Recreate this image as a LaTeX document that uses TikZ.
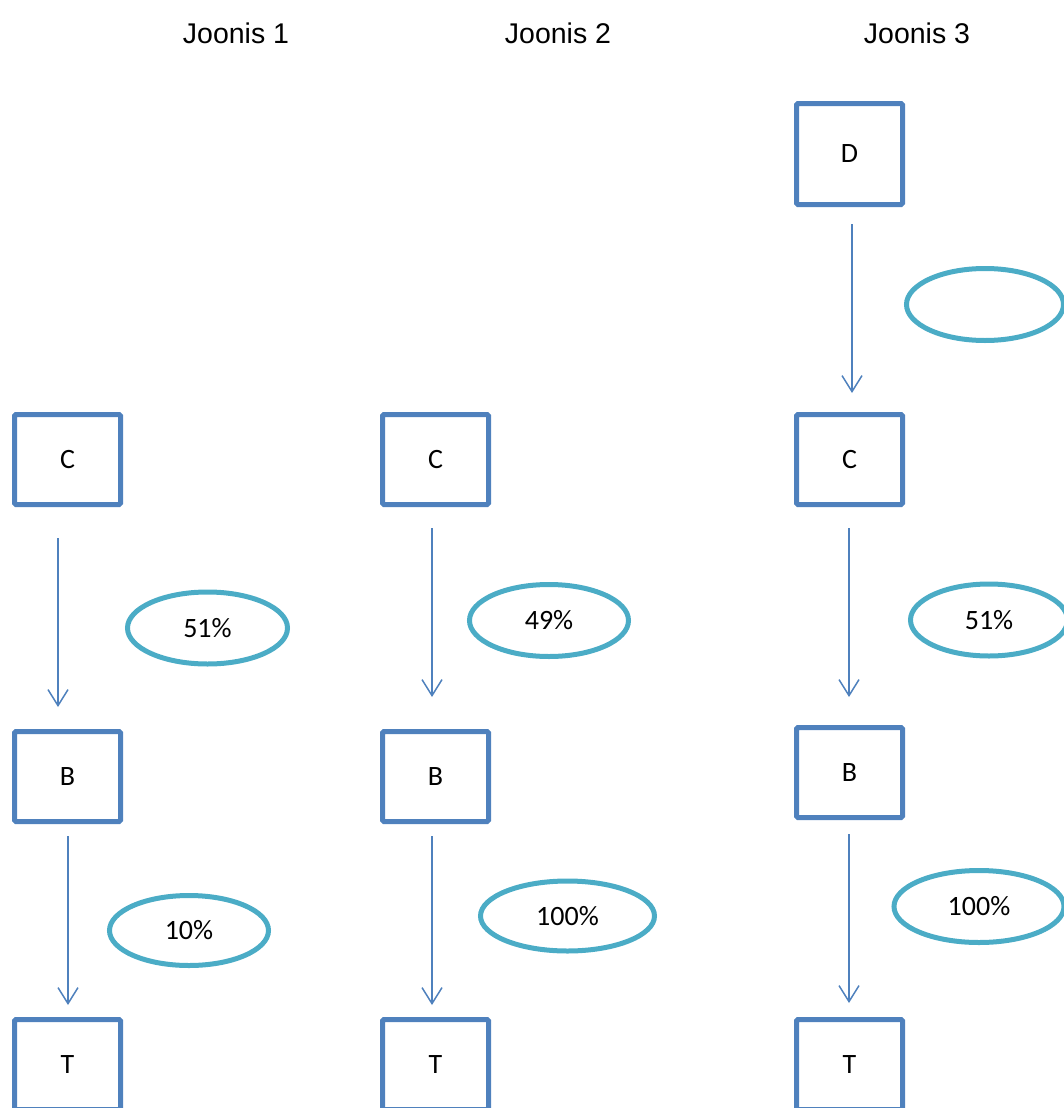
\documentclass[tikz,border=0pt]{standalone}
\usepackage{fontspec}
\setmainfont{Carlito}
\newfontfamily\headfont{Liberation Sans}
\usetikzlibrary{shapes.geometric,arrows.meta}
\definecolor{boxblue}{HTML}{4F81BD}
\definecolor{ovalcyan}{HTML}{4BACC6}
\tikzset{
	box/.style={draw=boxblue,line width=5pt,rounded corners=1.5pt,minimum width=106pt,minimum height=90pt,inner sep=0pt,font=\fontsize{28}{30}\selectfont},
	tallbox/.style={box,minimum height=101pt},
	oval/.style={ellipse,draw=ovalcyan,line width=5pt,minimum width=#1,minimum height=72pt,inner sep=0pt,font=\fontsize{28}{30}\selectfont},
	link/.style={draw=boxblue,line width=1.5pt,-{Straight Barb[length=16pt,width=20pt]}},
	title/.style={font=\headfont\fontsize{28.5}{30}\selectfont}
}
\begin{document}
\begin{tikzpicture}[x=1pt,y=-1pt]
	\useasboundingbox (0,0) rectangle (1064,1108);
	% titles
	\node [title] (t1) at (236,33) {Joonis 1};
	\node [title] (t2) at (558,33) {Joonis 2};
	\node [title] (t3) at (917,33) {Joonis 3};

	% Joonis 1
	\node [box] (c1) at (67.5,459.5) {C};
	\node [box] (b1) at (67.5,776.5) {B};
	\node [box] (e1) at (67.5,1064.5) {T};
	\node [oval=160pt] (p1) at (207.5,628) {51\%};
	\node [oval=159pt,minimum height=70pt] (q1) at (189,930.5) {10\%};
	\draw [link,shorten <=31pt,shorten >=22pt] ([xshift=-9.5pt]c1.south) -- ([xshift=-9.5pt]b1.north);
	\draw [link,shorten <=12pt,shorten >=12pt] ([xshift=0.5pt]b1.south) -- ([xshift=0.5pt]e1.north);

	% Joonis 2
	\node [box] (c2) at (435.5,459.5) {C};
	\node [box] (b2) at (435.5,776.5) {B};
	\node [box] (e2) at (435.5,1064.5) {T};
	\node [oval=159pt] (p2) at (549,620.5) {49\%};
	\node [oval=174pt,minimum height=70pt] (q2) at (567.5,916) {100\%};
	\draw [link,shorten <=21pt,shorten >=32pt] ([xshift=-3.5pt]c2.south) -- ([xshift=-3.5pt]b2.north);
	\draw [link,shorten <=12pt,shorten >=12pt] ([xshift=-3.5pt]b2.south) -- ([xshift=-3.5pt]e2.north);

	% Joonis 3
	\node [tallbox] (d3) at (849.5,154) {D};
	\node [box] (c3) at (849.5,459.5) {C};
	\node [box] (b3) at (849.5,772.5) {B};
	\node [box] (e3) at (849.5,1064.5) {T};
	\node [oval=157pt] (o3) at (985,304.5) {};
	\node [oval=157pt] (p3) at (989,620) {51\%};
	\node [oval=170pt] (q3) at (979,906.5) {100\%};
	\draw [link,shorten <=17pt,shorten >=19pt] ([xshift=2.5pt]d3.south) -- ([xshift=2.5pt]c3.north);
	\draw [link,shorten <=21pt,shorten >=28pt] ([xshift=-0.5pt]c3.south) -- ([xshift=-0.5pt]b3.north);
	\draw [link,shorten <=14pt,shorten >=14pt] ([xshift=-0.5pt]b3.south) -- ([xshift=-0.5pt]e3.north);
\end{tikzpicture}
\end{document}
